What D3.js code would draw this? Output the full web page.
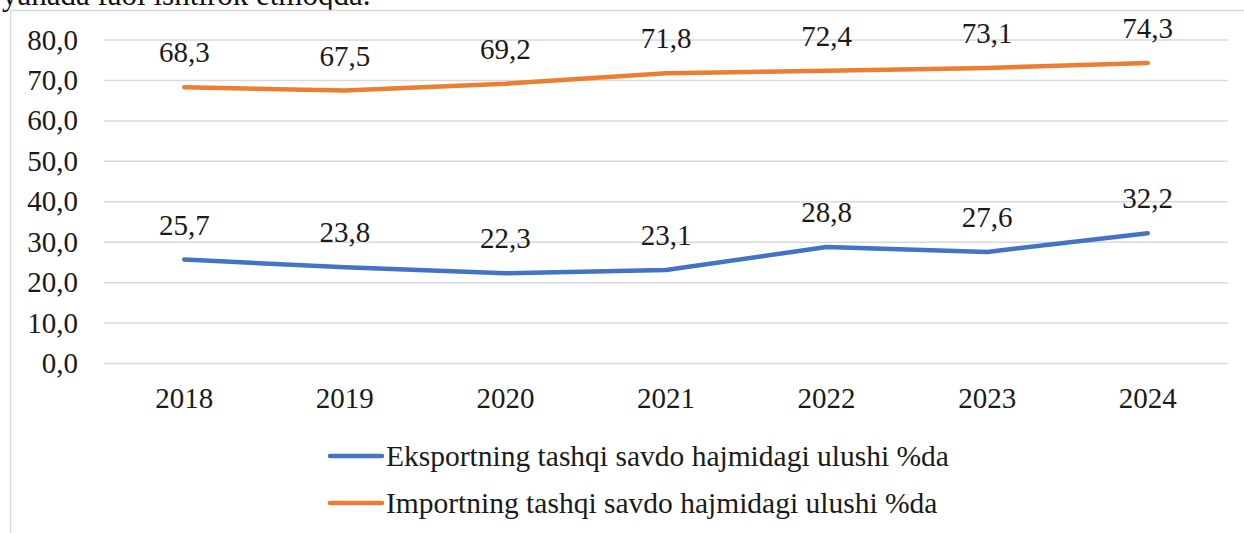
<!DOCTYPE html>
<html>
<head>
<meta charset="utf-8">
<script src="https://cdn.jsdelivr.net/npm/d3@7"></script>
<style>
  body { margin: 0; background: #fff; }
  svg { display: block; font-family: "Liberation Serif", "Times New Roman", serif; }
</style>
</head>
<body>
<svg id="chart" width="1244" height="533"></svg>
<script>
var years = ["2018", "2019", "2020", "2021", "2022", "2023", "2024"]
var eksport = [25.7, 23.8, 22.3, 23.1, 28.8, 27.6, 32.2]
var import_ = [68.3, 67.5, 69.2, 71.8, 72.4, 73.1, 74.3]
var series_names = ["Eksportning tashqi savdo hajmidagi ulushi %da", "Importning tashqi savdo hajmidagi ulushi %da"]
var y_ticks = [0, 10, 20, 30, 40, 50, 60, 70, 80]

var color = ["#4472c4", "#ed7d31"]
var svg = d3.select("#chart")

// text from the page above, cut off by the crop
svg.append("text")
    .attr("x", 2)
    .attr("y", 5)
    .attr("font-size", 31)
    .attr("fill", "#111")
    .text("yanada faol ishtirok etmoqda.")

// frame of the chart box
svg.append("rect")
    .attr("x", 10.5)
    .attr("y", 10.5)
    .attr("width", 1260)
    .attr("height", 540)
    .attr("fill", "#fff")
    .attr("stroke", "#d9d9d9")
    .attr("stroke-width", 1.5)

var left = 104, right = 1228
var x = d3.scaleBand().domain(years).range([left, right])
var y = d3.scaleLinear().domain([0, 80]).range([363.5, 40])

var fmt = function(v){ return d3.format(".1f")(v).replace(".", ",") }

// gridlines
svg.append("g").selectAll("line")
    .data(y_ticks)
    .enter()
    .append("line")
    .attr("x1", left)
    .attr("x2", right)
    .attr("y1", function(d){ return y(d) })
    .attr("y2", function(d){ return y(d) })
    .attr("stroke", "#d9d9d9")
    .attr("stroke-width", 1.5)

// y axis labels
svg.append("g").selectAll("text")
    .data(y_ticks)
    .enter()
    .append("text")
    .attr("x", 78)
    .attr("y", function(d){ return y(d) + 9.5 })
    .attr("text-anchor", "end")
    .attr("font-size", 29)
    .attr("fill", "#1a1a1a")
    .text(fmt)

// x axis labels
svg.append("g").selectAll("text")
    .data(years)
    .enter()
    .append("text")
    .attr("x", function(d){ return x(d) + x.bandwidth() / 2 })
    .attr("y", 408)
    .attr("text-anchor", "middle")
    .attr("font-size", 29)
    .attr("fill", "#1a1a1a")
    .text(function(d){ return d })

var line = d3.line()
    .x(function(d, i){ return x(years[i]) + x.bandwidth() / 2 })
    .y(function(d){ return y(d) })

var all = [eksport, import_]
all.forEach(function(vals, k){
  svg.append("path")
      .datum(vals)
      .attr("d", line)
      .attr("fill", "none")
      .attr("stroke", color[k])
      .attr("stroke-width", 4.5)
      .attr("stroke-linecap", "round")
      .attr("stroke-linejoin", "round")

  svg.append("g").selectAll("text")
      .data(vals)
      .enter()
      .append("text")
      .attr("x", function(d, i){ return x(years[i]) + x.bandwidth() / 2 })
      .attr("y", function(d){ return y(d) - 25 })
      .attr("text-anchor", "middle")
      .attr("font-size", 29)
      .attr("fill", "#1a1a1a")
      .text(fmt)
})

// legend
var legend = svg.append("g").selectAll("g")
    .data(series_names)
    .enter()
    .append("g")
    .attr("transform", function(d, i){ return "translate(328," + (456 + i * 47) + ")" })
legend.append("line")
    .attr("x1", 2)
    .attr("x2", 54)
    .attr("stroke", function(d, i){ return color[i] })
    .attr("stroke-width", 4.5)
    .attr("stroke-linecap", "round")
legend.append("text")
    .attr("x", 58)
    .attr("y", 10)
    .attr("font-size", 29.5)
    .attr("fill", "#1a1a1a")
    .text(function(d){ return d })
</script>
</body>
</html>
